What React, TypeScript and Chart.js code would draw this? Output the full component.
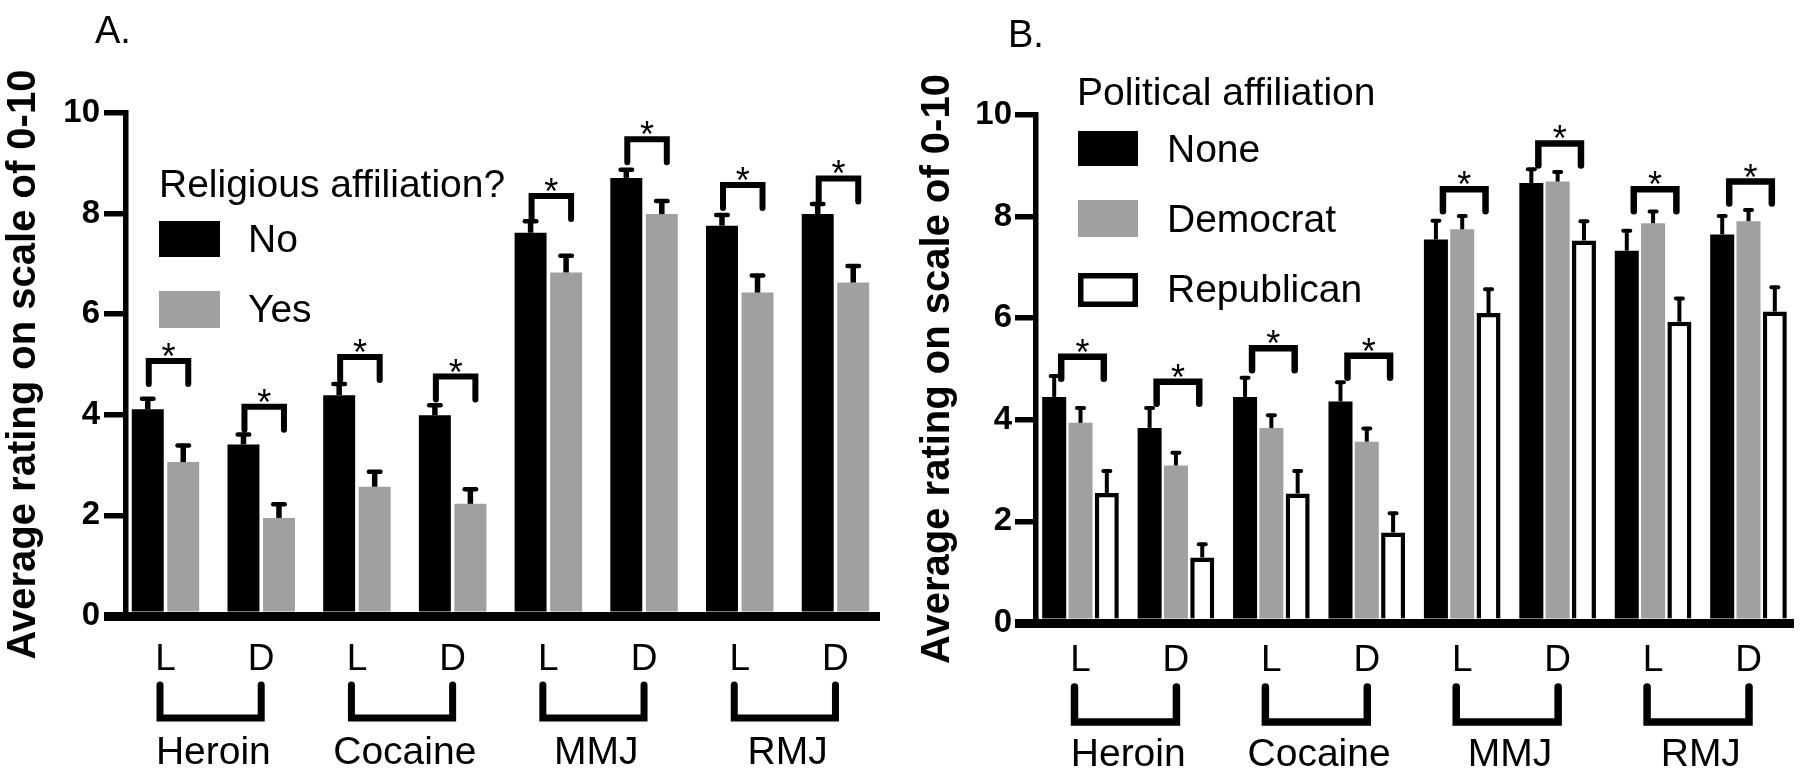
import React, { useEffect, useRef } from 'react';
import { Chart, registerables } from 'chart.js';

Chart.register(...registerables);

const FONT = "'Liberation Sans', Arial, Helvetica, sans-serif";
const GRAY = '#a0a0a0';

// ---------- shared axis text ----------
const xTickLabels = ['L', 'D', 'L', 'D', 'L', 'D', 'L', 'D'];
const drugGroups = ['Heroin', 'Cocaine', 'MMJ', 'RMJ'];
const yTicks = [0, 2, 4, 6, 8, 10];
const yTitle = 'Average rating on scale of 0-10';

// ---------- Panel A: religious affiliation ----------
const religionNo = [4.11, 3.41, 4.39, 3.99, 7.62, 8.71, 7.76, 7.99];
const religionNoErr = [0.21, 0.2, 0.22, 0.2, 0.23, 0.16, 0.21, 0.2];
const religionYes = [3.06, 1.95, 2.57, 2.23, 6.83, 7.99, 6.43, 6.63];
const religionYesErr = [0.33, 0.27, 0.3, 0.29, 0.33, 0.26, 0.34, 0.33];
const religionSig = [5.07, 4.16, 5.15, 4.76, 8.35, 9.48, 8.57, 8.7];

// ---------- Panel B: political affiliation ----------
const politicsNone = [4.45, 3.84, 4.45, 4.36, 7.55, 8.66, 7.33, 7.65];
const politicsNoneErr = [0.41, 0.39, 0.38, 0.38, 0.37, 0.27, 0.39, 0.36];
const politicsDem = [3.94, 3.1, 3.84, 3.57, 7.75, 8.69, 7.87, 7.91];
const politicsDemErr = [0.29, 0.25, 0.25, 0.26, 0.26, 0.19, 0.23, 0.22];
const politicsRep = [2.56, 1.29, 2.55, 1.78, 6.1, 7.53, 5.93, 6.13];
const politicsRepErr = [0.43, 0.26, 0.44, 0.38, 0.47, 0.38, 0.46, 0.48];
const politicsSig = [5.24, 4.75, 5.41, 5.26, 8.54, 9.44, 8.54, 8.69];

type Series = {
  label: string;
  values: number[];
  err: number[];
  fill: string;
  stroke: string;
  strokeWidth: number;
};

type Spec = {
  id: string;
  letter: string;
  letterX: number;
  letterY: number;
  left: number;
  width: number;
  height: number;
  area: { left: number; right: number; top: number; bottom: number };
  xMin: number;
  xMax: number;
  catPct: number;
  barPct: number;
  series: Series[];
  sig: number[];
  stemW: number;
  capW: number;
  capT: number;
  sigOffL: number;
  sigOffR: number;
  sigLeg: number;
  sigW: number;
  grpOffL: number;
  grpOffR: number;
  grpTop: number;
  grpBottom: number;
  grpW: number;
  grpBaseline: number;
  xTickPad: number;
  yTickLen: number;
  yTickPad: number;
  titlePad: number;
  legendTitle: string;
  legendTitleX: number;
  legendTitleY: number;
  legendBoxX: number;
  legendBoxW: number;
  legendTextX: number;
  legendRows: { y: number; h: number; baseline: number }[];
};

const X_AXIS_H = 100;

const panelA: Spec = {
  id: 'A',
  letter: 'A.',
  letterX: 95,
  letterY: 43,
  left: 0,
  width: 900,
  height: 776,
  area: { left: 126, right: 879, top: 113, bottom: 616 },
  xMin: -0.4127,
  xMax: 7.4548,
  catPct: 0.742,
  barPct: 0.9,
  series: [
    { label: 'No', values: religionNo, err: religionNoErr, fill: '#000000', stroke: '#000000', strokeWidth: 0 },
    { label: 'Yes', values: religionYes, err: religionYesErr, fill: GRAY, stroke: GRAY, strokeWidth: 0 },
  ],
  sig: religionSig,
  stemW: 5.5,
  capW: 16,
  capT: 4.5,
  sigOffL: 1,
  sigOffR: 5,
  sigLeg: 23,
  sigW: 6,
  grpOffL: -5.5,
  grpOffR: 0,
  grpTop: 685,
  grpBottom: 718,
  grpW: 7,
  grpBaseline: 764,
  xTickPad: 22,
  yTickLen: 22,
  yTickPad: 4,
  titlePad: 0,
  legendTitle: 'Religious affiliation?',
  legendTitleX: 159,
  legendTitleY: 197,
  legendBoxX: 159,
  legendBoxW: 61,
  legendTextX: 248,
  legendRows: [
    { y: 221, h: 36, baseline: 252 },
    { y: 291, h: 37, baseline: 322 },
  ],
};

const panelB: Spec = {
  id: 'B',
  letter: 'B.',
  letterX: 108,
  letterY: 47,
  left: 900,
  width: 900,
  height: 776,
  area: { left: 135.5, right: 893, top: 115, bottom: 623 },
  xMin: -0.4716,
  xMax: 7.4662,
  catPct: 0.827,
  barPct: 0.913,
  series: [
    { label: 'None', values: politicsNone, err: politicsNoneErr, fill: '#000000', stroke: '#000000', strokeWidth: 0 },
    { label: 'Democrat', values: politicsDem, err: politicsDemErr, fill: GRAY, stroke: GRAY, strokeWidth: 0 },
    { label: 'Republican', values: politicsRep, err: politicsRepErr, fill: '#ffffff', stroke: '#000000', strokeWidth: 4.5 },
  ],
  sig: politicsSig,
  stemW: 4,
  capW: 11,
  capT: 4,
  sigOffL: 7,
  sigOffR: -3,
  sigLeg: 22,
  sigW: 6.5,
  grpOffL: -6,
  grpOffR: 0.5,
  grpTop: 687,
  grpBottom: 722,
  grpW: 7.5,
  grpBaseline: 766,
  xTickPad: 16,
  yTickLen: 20.5,
  yTickPad: 3,
  titlePad: 14,
  legendTitle: 'Political affiliation',
  legendTitleX: 177,
  legendTitleY: 105,
  legendBoxX: 178,
  legendBoxW: 60,
  legendTextX: 267,
  legendRows: [
    { y: 131, h: 35, baseline: 162 },
    { y: 200, h: 37, baseline: 232 },
    { y: 273, h: 34, baseline: 302 },
  ],
};

function decorPlugin(spec: Spec) {
  return {
    id: 'decor' + spec.id,
    afterDraw(chart: any) {
      const ctx: CanvasRenderingContext2D = chart.ctx;
      const xs = chart.scales.x;
      const ys = chart.scales.y;
      ctx.save();
      ctx.fillStyle = '#000';
      ctx.strokeStyle = '#000';

      // error bars (upper only)
      spec.series.forEach((s, di) => {
        const meta = chart.getDatasetMeta(di);
        meta.data.forEach((el: any, i: number) => {
          const bx = el.x;
          const by = el.y;
          const ty = ys.getPixelForValue(s.values[i] + s.err[i]);
          ctx.lineCap = 'butt';
          ctx.lineWidth = spec.stemW;
          ctx.beginPath();
          ctx.moveTo(bx, by);
          ctx.lineTo(bx, ty);
          ctx.stroke();
          ctx.lineCap = 'round';
          ctx.lineWidth = spec.capT;
          ctx.beginPath();
          ctx.moveTo(bx - spec.capW / 2 + spec.capT / 2, ty);
          ctx.lineTo(bx + spec.capW / 2 - spec.capT / 2, ty);
          ctx.stroke();
        });
      });

      // significance brackets with stars
      const first = chart.getDatasetMeta(0);
      const last = chart.getDatasetMeta(spec.series.length - 1);
      spec.sig.forEach((v, i) => {
        const x1 = first.data[i].x + spec.sigOffL;
        const x2 = last.data[i].x + spec.sigOffR;
        const yt = ys.getPixelForValue(v);
        ctx.lineWidth = spec.sigW;
        ctx.lineCap = 'round';
        ctx.lineJoin = 'miter';
        ctx.beginPath();
        ctx.moveTo(x1, yt + spec.sigLeg);
        ctx.lineTo(x1, yt);
        ctx.lineTo(x2, yt);
        ctx.lineTo(x2, yt + spec.sigLeg);
        ctx.stroke();
        ctx.font = `36px ${FONT}`;
        ctx.textAlign = 'center';
        ctx.textBaseline = 'alphabetic';
        ctx.fillText('*', (x1 + x2) / 2, yt + 8);
      });

      // group brackets and group labels below the axis
      drugGroups.forEach((g, gi) => {
        const pl = xs.getPixelForValue(gi * 2);
        const pd = xs.getPixelForValue(gi * 2 + 1);
        const xl = pl + spec.grpOffL;
        const xr = pd + spec.grpOffR;
        ctx.lineWidth = spec.grpW;
        ctx.lineCap = 'round';
        ctx.lineJoin = 'miter';
        ctx.beginPath();
        ctx.moveTo(xl, spec.grpTop);
        ctx.lineTo(xl, spec.grpBottom);
        ctx.lineTo(xr, spec.grpBottom);
        ctx.lineTo(xr, spec.grpTop);
        ctx.stroke();
        ctx.font = `39px ${FONT}`;
        ctx.textAlign = 'center';
        ctx.textBaseline = 'alphabetic';
        ctx.fillText(g, (pl + pd) / 2, spec.grpBaseline);
      });

      // legend
      ctx.textAlign = 'left';
      ctx.textBaseline = 'alphabetic';
      ctx.font = `39px ${FONT}`;
      ctx.fillStyle = '#000';
      ctx.fillText(spec.legendTitle, spec.legendTitleX, spec.legendTitleY);
      spec.series.forEach((s, i) => {
        const r = spec.legendRows[i];
        ctx.fillStyle = s.fill;
        ctx.fillRect(spec.legendBoxX, r.y, spec.legendBoxW, r.h);
        if (s.strokeWidth > 0) {
          ctx.strokeStyle = s.stroke;
          ctx.lineWidth = 5.5;
          ctx.strokeRect(spec.legendBoxX + 2.75, r.y + 2.75, spec.legendBoxW - 5.5, r.h - 5.5);
        }
        ctx.fillStyle = '#000';
        ctx.font = `39px ${FONT}`;
        ctx.fillText(s.label, spec.legendTextX, r.baseline);
      });

      // panel letter
      ctx.font = `38px ${FONT}`;
      ctx.fillText(spec.letter, spec.letterX, spec.letterY);
      ctx.restore();
    },
  };
}

function Panel({ spec }: { spec: Spec }) {
  const ref = useRef<HTMLCanvasElement>(null);
  useEffect(() => {
    const canvas = ref.current;
    if (!canvas) return;
    const chart = new Chart(canvas, {
      type: 'bar',
      data: {
        datasets: spec.series.map((s) => ({
          label: s.label,
          data: s.values.map((v, i) => ({ x: i, y: v })),
          backgroundColor: s.fill,
          borderColor: s.stroke,
          borderWidth: s.strokeWidth,
          borderSkipped: 'start',
          categoryPercentage: spec.catPct,
          barPercentage: spec.barPct,
        })),
      } as any,
      options: {
        responsive: false,
        animation: false,
        devicePixelRatio: 1,
        events: [],
        layout: {
          padding: {
            left: 0,
            top: spec.area.top,
            right: spec.width - spec.area.right,
            bottom: spec.height - spec.area.bottom - X_AXIS_H,
          },
        },
        plugins: { legend: { display: false }, tooltip: { enabled: false }, title: { display: false } },
        scales: {
          x: {
            type: 'linear',
            min: spec.xMin,
            max: spec.xMax,
            offset: false,
            z: 1,
            afterBuildTicks: (sc: any) => {
              sc.ticks = xTickLabels.map((_, i) => ({ value: i }));
            },
            afterFit: (sc: any) => {
              sc.height = X_AXIS_H;
            },
            grid: { display: false, drawTicks: false, offset: false },
            border: { display: true, color: '#000', width: 9 },
            ticks: {
              autoSkip: false,
              maxRotation: 0,
              minRotation: 0,
              padding: spec.xTickPad,
              color: '#000',
              font: { family: FONT, size: 37 },
              callback: (_v: any, i: number) => xTickLabels[i] ?? '',
            },
          },
          y: {
            type: 'linear',
            min: 0,
            max: 10,
            z: 1,
            afterBuildTicks: (sc: any) => {
              sc.ticks = yTicks.map((v) => ({ value: v }));
            },
            afterFit: (sc: any) => {
              sc.width = spec.area.left;
            },
            grid: {
              display: true,
              drawOnChartArea: false,
              drawTicks: true,
              tickLength: spec.yTickLen,
              color: '#000',
              lineWidth: (c: any) => (c.tick && c.tick.value === 0 ? 9 : 5.5),
            },
            border: { display: true, color: '#000', width: 5.5 },
            ticks: {
              padding: spec.yTickPad,
              color: '#000',
              font: { family: FONT, size: 33, weight: 'bold' },
            },
            title: {
              display: true,
              text: yTitle,
              color: '#000',
              font: { family: FONT, size: 40, weight: 'bold' },
              padding: { top: spec.titlePad, bottom: 0 },
            },
          },
        },
      } as any,
      plugins: [decorPlugin(spec)],
    });
    return () => chart.destroy();
  }, [spec]);
  return (
    <canvas
      ref={ref}
      width={spec.width}
      height={spec.height}
      style={{ position: 'absolute', left: spec.left, top: 0, width: spec.width, height: spec.height }}
    />
  );
}

export default function App() {
  useEffect(() => {
    document.body.style.margin = '0';
  }, []);
  return (
    <div style={{ position: 'fixed', left: 0, top: 0, width: 1800, height: 776, background: '#fff', overflow: 'hidden' }}>
      <Panel spec={panelA} />
      <Panel spec={panelB} />
    </div>
  );
}
